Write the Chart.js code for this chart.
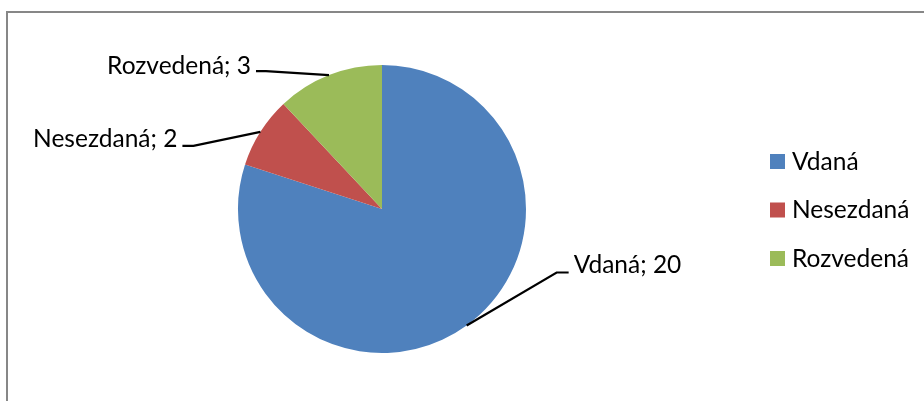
<!DOCTYPE html>
<html>
<head>
<meta charset="utf-8">
<script src="https://cdn.jsdelivr.net/npm/chart.js@4/dist/chart.umd.min.js"></script>
<style>
  html, body { margin: 0; padding: 0; background: #fff; }
  #wrap { position: relative; width: 924px; height: 401px; }
  canvas { display: block; }
</style>
</head>
<body>
<div id="wrap"><canvas id="c" width="924" height="401"></canvas></div>
<script>
// ---- data ----
const categories = ['Vdaná', 'Nesezdaná', 'Rozvedená'];
const values = [20, 2, 3];
const colors = ['#4F81BD', '#C0504D', '#9BBB59'];

// ---- label leader geometry (offsets relative to slice edge point) ----
const leaderElbow = [[90, -53], [-67, 14], [-63, -4]];
const leaderTail = [12, -11, -10];
const labelBaselineShift = [1, 1, 3];

const FONT = '24.5px Lato';

const framePlugin = {
  id: 'frame',
  beforeDraw(chart) {
    const ctx = chart.ctx;
    ctx.save();
    ctx.strokeStyle = '#878787';
    ctx.lineWidth = 2;
    ctx.beginPath();
    ctx.moveTo(7, 401);
    ctx.lineTo(7, 12);
    ctx.lineTo(924, 12);
    ctx.stroke();
    ctx.restore();
  }
};

const labelPlugin = {
  id: 'pieLabels',
  afterDraw(chart) {
    const ctx = chart.ctx;
    const meta = chart.getDatasetMeta(0);
    ctx.save();
    ctx.font = FONT;
    ctx.fillStyle = '#000';
    ctx.strokeStyle = '#000';
    ctx.lineWidth = 2.2;
    meta.data.forEach((arc, i) => {
      const p = arc.getProps(['x', 'y', 'startAngle', 'endAngle', 'outerRadius'], true);
      const mid = (p.startAngle + p.endAngle) / 2;
      const ex = p.x + Math.cos(mid) * p.outerRadius;
      const ey = p.y + Math.sin(mid) * p.outerRadius;
      const bx = ex + leaderElbow[i][0];
      const by = ey + leaderElbow[i][1];
      const tx = bx + leaderTail[i];
      ctx.beginPath();
      ctx.moveTo(ex, ey);
      ctx.lineTo(bx, by);
      ctx.lineTo(tx, by);
      ctx.stroke();
      const txt = categories[i] + '; ' + values[i];
      const right = leaderTail[i] > 0;
      ctx.textAlign = right ? 'left' : 'right';
      ctx.textBaseline = 'alphabetic';
      ctx.fillText(txt, right ? tx + 5 : tx - 5, by + labelBaselineShift[i]);
    });
    // legend
    ctx.textAlign = 'left';
    ctx.textBaseline = 'alphabetic';
    categories.forEach((c, i) => {
      const top = 154 + i * 48.5;
      ctx.fillStyle = colors[i];
      ctx.fillRect(770, top, 15, 15);
      ctx.fillStyle = '#000';
      ctx.fillText(c, 792, top + 15.5);
    });
    ctx.restore();
  }
};

new Chart(document.getElementById('c'), {
  type: 'pie',
  data: {
    labels: categories,
    datasets: [{
      data: values,
      backgroundColor: colors,
      borderWidth: 0
    }]
  },
  options: {
    responsive: false,
    animation: false,
    layout: { padding: { left: 238, right: 398, top: 65, bottom: 48 } },
    plugins: {
      legend: { display: false },
      tooltip: { enabled: false }
    }
  },
  plugins: [framePlugin, labelPlugin]
});
</script>
</body>
</html>
